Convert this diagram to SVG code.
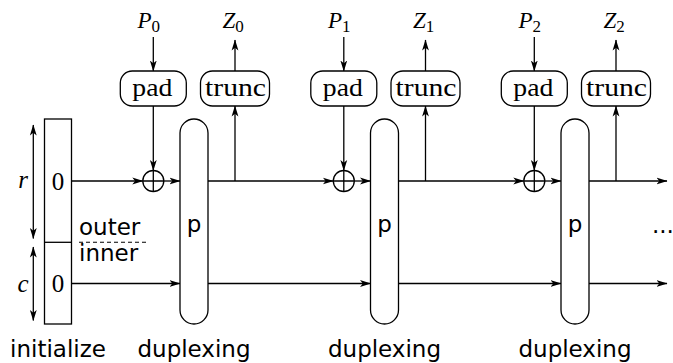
<svg xmlns="http://www.w3.org/2000/svg" width="673" height="363" viewBox="0 0 673 363">
<style>
.ln{stroke:#000;stroke-width:1.3;fill:none}
.ar{stroke:#000;stroke-width:1.3;fill:none;marker-end:url(#ah)}
.box{stroke:#000;stroke-width:1.3;fill:#fff}
.serif{font-family:"Liberation Serif","Times New Roman",serif;fill:#000}
.it{font-style:italic}
.sans{font-family:"DejaVu Sans",sans-serif;font-size:23px;fill:#000}
.lbl{font-size:25px}
.sub{font-size:17px;font-style:normal}
</style>
<defs>
<marker id="ah" markerUnits="userSpaceOnUse" markerWidth="12" markerHeight="8" refX="10.5" refY="4" orient="auto-start-reverse" viewBox="0 0 12 8">
<path d="M0,0.6 L11,4 L0,7.4 L2.8,4 z" fill="#000"/>
</marker>
</defs>

<g id="connectors">
<!-- dimension arrows -->
<line class="ar" x1="33.3" y1="181" x2="33.3" y2="125" />
<line class="ar" x1="33.3" y1="181" x2="33.3" y2="238.5" />
<line class="ar" x1="33.3" y1="284" x2="33.3" y2="247" />
<line class="ar" x1="33.3" y1="284" x2="33.3" y2="320.5" />
<!-- outer/inner dashed -->
<line x1="79" y1="242.3" x2="147" y2="242.3" stroke="#000" stroke-width="1.1" stroke-dasharray="4 3"/>
<!-- r row -->
<line class="ar" x1="71.5" y1="181" x2="142.8" y2="181"/>
<line class="ar" x1="163.8" y1="181" x2="180" y2="181"/>
<line class="ar" x1="208" y1="181" x2="333.3" y2="181"/>
<line class="ar" x1="354.3" y1="181" x2="370.5" y2="181"/>
<line class="ar" x1="398.5" y1="181" x2="523.8" y2="181"/>
<line class="ar" x1="544.8" y1="181" x2="561" y2="181"/>
<line class="ar" x1="589" y1="181" x2="667" y2="181"/>
<!-- c row -->
<line class="ar" x1="71.5" y1="283.5" x2="180" y2="283.5"/>
<line class="ar" x1="208" y1="283.5" x2="370.5" y2="283.5"/>
<line class="ar" x1="398.5" y1="283.5" x2="561" y2="283.5"/>
<line class="ar" x1="589" y1="283.5" x2="667" y2="283.5"/>
<!-- stage 0 verticals -->
<line class="ar" x1="153.3" y1="37" x2="153.3" y2="71"/>
<line class="ar" x1="153.3" y1="106" x2="153.3" y2="170.5"/>
<line class="ar" x1="235" y1="71" x2="235" y2="40"/>
<line class="ar" x1="235" y1="181" x2="235" y2="106"/>
<!-- stage 1 verticals -->
<line class="ar" x1="343.8" y1="37" x2="343.8" y2="71"/>
<line class="ar" x1="343.8" y1="106" x2="343.8" y2="170.5"/>
<line class="ar" x1="425.5" y1="71" x2="425.5" y2="40"/>
<line class="ar" x1="425.5" y1="181" x2="425.5" y2="106"/>
<!-- stage 2 verticals -->
<line class="ar" x1="534.3" y1="37" x2="534.3" y2="71"/>
<line class="ar" x1="534.3" y1="106" x2="534.3" y2="170.5"/>
<line class="ar" x1="616" y1="71" x2="616" y2="40"/>
<line class="ar" x1="616" y1="181" x2="616" y2="106"/>
</g>

<g id="init">
<rect class="box" x="44.5" y="119" width="27" height="205"/>
<line class="ln" x1="44.5" y1="242.3" x2="71.5" y2="242.3"/>
<text class="serif lbl" x="58" y="190" text-anchor="middle">0</text>
<text class="serif lbl" x="58" y="292" text-anchor="middle">0</text>
</g>
<g id="label-r"><text class="serif lbl it" x="23" y="188" text-anchor="middle">r</text></g>
<g id="label-c"><text class="serif lbl it" x="23" y="291.5" text-anchor="middle">c</text></g>
<g id="label-outer"><text class="sans" x="79" y="235">outer</text></g>
<g id="label-inner"><text class="sans" x="79" y="261">inner</text></g>

<!-- stage 0 -->
<g id="P0"><text class="serif it" font-size="23" x="137.5" y="28">P<tspan class="sub" dy="4">0</tspan></text></g>
<g id="Z0"><text class="serif it" font-size="23" x="222.5" y="28">Z<tspan class="sub" dy="4">0</tspan></text></g>
<g id="pad0"><rect class="box" x="120.3" y="71" width="66" height="35" rx="12"/><text class="serif lbl" x="152.3" y="96" text-anchor="middle" textLength="40" lengthAdjust="spacingAndGlyphs">pad</text></g>
<g id="trunc0"><rect class="box" x="200.5" y="71" width="69" height="35" rx="12"/><text class="serif lbl" x="235.5" y="96" text-anchor="middle" textLength="61" lengthAdjust="spacingAndGlyphs">trunc</text></g>
<g id="xor0"><circle class="box" cx="153.3" cy="181" r="10.5"/><path class="ln" d="M142.8,181 H163.8 M153.3,170.5 V191.5"/></g>
<g id="perm0"><rect class="box" x="180" y="119" width="28" height="205" rx="14"/><text class="sans" x="194" y="232" text-anchor="middle">p</text></g>

<!-- stage 1 -->
<g id="P1"><text class="serif it" font-size="23" x="328" y="28">P<tspan class="sub" dy="4">1</tspan></text></g>
<g id="Z1"><text class="serif it" font-size="23" x="413" y="28">Z<tspan class="sub" dy="4">1</tspan></text></g>
<g id="pad1"><rect class="box" x="310.8" y="71" width="66" height="35" rx="12"/><text class="serif lbl" x="342.8" y="96" text-anchor="middle" textLength="40" lengthAdjust="spacingAndGlyphs">pad</text></g>
<g id="trunc1"><rect class="box" x="391" y="71" width="69" height="35" rx="12"/><text class="serif lbl" x="426" y="96" text-anchor="middle" textLength="61" lengthAdjust="spacingAndGlyphs">trunc</text></g>
<g id="xor1"><circle class="box" cx="343.8" cy="181" r="10.5"/><path class="ln" d="M333.3,181 H354.3 M343.8,170.5 V191.5"/></g>
<g id="perm1"><rect class="box" x="370.5" y="119" width="28" height="205" rx="14"/><text class="sans" x="384.5" y="232" text-anchor="middle">p</text></g>

<!-- stage 2 -->
<g id="P2"><text class="serif it" font-size="23" x="518.5" y="28">P<tspan class="sub" dy="4">2</tspan></text></g>
<g id="Z2"><text class="serif it" font-size="23" x="603.5" y="28">Z<tspan class="sub" dy="4">2</tspan></text></g>
<g id="pad2"><rect class="box" x="501.3" y="71" width="66" height="35" rx="12"/><text class="serif lbl" x="533.3" y="96" text-anchor="middle" textLength="40" lengthAdjust="spacingAndGlyphs">pad</text></g>
<g id="trunc2"><rect class="box" x="581.5" y="71" width="69" height="35" rx="12"/><text class="serif lbl" x="616.5" y="96" text-anchor="middle" textLength="61" lengthAdjust="spacingAndGlyphs">trunc</text></g>
<g id="xor2"><circle class="box" cx="534.3" cy="181" r="10.5"/><path class="ln" d="M523.8,181 H544.8 M534.3,170.5 V191.5"/></g>
<g id="perm2"><rect class="box" x="561" y="119" width="28" height="205" rx="14"/><text class="sans" x="575" y="232" text-anchor="middle">p</text></g>

<g id="dots"><text class="sans" x="652" y="233">...</text></g>

<g id="phase-labels">
<text class="sans" x="58" y="356.5" text-anchor="middle">initialize</text>
<text class="sans" x="194" y="356.5" text-anchor="middle">duplexing</text>
<text class="sans" x="384.5" y="356.5" text-anchor="middle">duplexing</text>
<text class="sans" x="575" y="356.5" text-anchor="middle">duplexing</text>
</g>
</svg>
